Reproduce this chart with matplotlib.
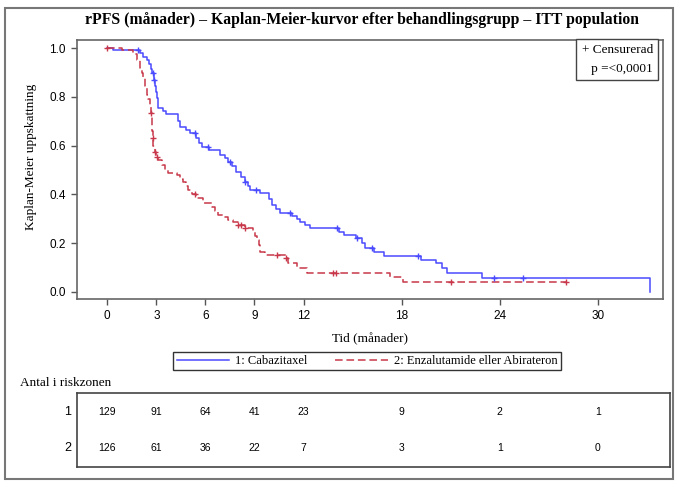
import matplotlib
matplotlib.use("Agg")
import matplotlib.pyplot as plt
from matplotlib.lines import Line2D
from matplotlib.patches import Rectangle
import numpy as np

# ============= data
# group 1: Cabazitaxel  (time in months, survival after the drop)
cab_t = [0, 0.35, 2.0, 2.2, 2.4, 2.55, 2.65, 2.72, 2.85, 2.92, 2.97, 3.02, 3.08, 3.12,
         3.4, 3.6, 4.3, 4.45, 4.8, 5.05, 5.4, 5.6, 5.8, 6.2, 6.9, 7.2, 7.4, 7.65, 7.9,
         8.15, 8.42, 8.6, 8.73, 9.34, 9.9, 10.05, 10.3, 10.56, 11.3, 11.6, 11.8, 12.1,
         12.4, 14.2, 14.5, 15.2, 15.6, 15.75, 16.3, 16.9, 19.2, 20.1, 20.45, 20.8, 22.9, 33.2]
cab_s = [1.0, 0.992, 0.98, 0.965, 0.95, 0.935, 0.915, 0.90, 0.87, 0.845, 0.82, 0.795, 0.77, 0.754,
         0.742, 0.73, 0.70, 0.678, 0.665, 0.65, 0.63, 0.612, 0.595, 0.582, 0.562, 0.548, 0.534, 0.515, 0.493,
         0.472, 0.452, 0.435, 0.418, 0.404, 0.38, 0.356, 0.34, 0.322, 0.31, 0.30, 0.288, 0.275,
         0.261, 0.247, 0.233, 0.22, 0.20, 0.179, 0.165, 0.147, 0.13, 0.117, 0.096, 0.076, 0.055, 0.0]
cab_cens = [1.9, 2.8, 2.87, 5.35, 6.16, 7.5, 8.42, 9.1, 11.17, 14.05, 15.25, 16.2, 19.0, 23.65, 25.4]

# group 2: Enzalutamide eller Abirateron
enz_t = [0, 0.9, 1.6, 1.8, 2.0, 2.1, 2.2, 2.3, 2.4, 2.5, 2.6, 2.68, 2.72, 2.75, 2.78, 2.82,
         2.9, 3.0, 3.1, 3.33, 3.5, 3.73, 4.24, 4.45, 4.65, 4.8, 4.95, 5.2, 5.45, 5.87, 6.38,
         6.6, 6.79, 7.1, 7.4, 7.7, 8.0, 8.42, 8.93, 9.05, 9.14, 9.25, 9.34, 9.65, 10.9, 11.07,
         11.58, 12.2, 17.3, 18.1, 28.05]
enz_s = [1.0, 0.992, 0.975, 0.95, 0.92, 0.90, 0.877, 0.845, 0.81, 0.79, 0.767, 0.735, 0.70, 0.66, 0.63, 0.60,
         0.575, 0.555, 0.54, 0.52, 0.50, 0.487, 0.48, 0.465, 0.452, 0.435, 0.418, 0.40, 0.385, 0.363, 0.35,
         0.33, 0.315, 0.305, 0.295, 0.285, 0.274, 0.261, 0.247, 0.23, 0.213, 0.19, 0.165, 0.151, 0.14, 0.117,
         0.096, 0.076, 0.062, 0.041, 0.041]
enz_cens = [0.0, 2.7, 2.8, 2.9, 3.02, 5.36, 8.0, 8.2, 8.42, 10.4, 10.9, 13.8, 14.0, 21.0, 28.05]

xticks = [0, 3, 6, 9, 12, 18, 24, 30]
risk_1 = [129, 91, 64, 41, 23, 9, 2, 1]
risk_2 = [126, 61, 36, 22, 7, 3, 1, 0]

title = "rPFS (månader) – Kaplan-Meier-kurvor efter behandlingsgrupp – ITT population"
lab_1 = "1: Cabazitaxel"
lab_2 = "2: Enzalutamide eller Abirateron"

# ============= size / colours
my_dpi = 100
W, H = 686, 487
blue = "#4a4aff"
red = "#c8384a"
serif = "Liberation Serif"
sans = "Liberation Sans"
lw = 1.1

fig = plt.figure(figsize=(W / my_dpi, H / my_dpi), dpi=my_dpi)

def px_box(x0, y0, x1, y1):
  return [x0 / W, 1 - y1 / H, (x1 - x0) / W, (y1 - y0) / H]

# pixel mapping of the time axis: x_px = 107.3 + 16.35 * t
def t_of(px):
  return (px - 107.3) / 16.35

ax = fig.add_axes(px_box(77, 40, 663, 299))

def surv_at(times, surv, tc):
  i = np.searchsorted(times, tc, side="right") - 1
  return np.asarray(surv)[i]

ax.step(cab_t, cab_s, where="post", color=blue, lw=lw)
ax.step(enz_t, enz_s, where="post", color=red, lw=lw, dashes=(5, 2.5))
ax.plot(cab_cens, surv_at(cab_t, cab_s, cab_cens), "+", color=blue, ms=5, mew=1)
ax.plot(enz_cens, surv_at(enz_t, enz_s, enz_cens), "+", color=red, ms=5, mew=1)

ax.set_xlim(t_of(77), t_of(663))
ax.set_ylim(-0.03, 1.034)
ax.set_xticks(xticks)
ax.set_yticks([0.0, 0.2, 0.4, 0.6, 0.8, 1.0])
ax.set_yticklabels(["0.0", "0.2", "0.4", "0.6", "0.8", "1.0"])
for lbl in ax.get_xticklabels() + ax.get_yticklabels():
  lbl.set_fontfamily(sans)
  lbl.set_fontsize(8.5)
ax.tick_params(direction="out", length=4, width=1, color="#555555", pad=4)
for sp in ax.spines.values():
  sp.set_color("#666666")
  sp.set_linewidth(1.2)

ax.set_xlabel("Tid (månader)", family=serif, fontsize=9.5, labelpad=8)
ax.set_ylabel("Kaplan-Meier uppskattning", family=serif, fontsize=9.5)
ax.yaxis.set_label_coords(-0.068, 0.55)

fig.text(362 / W, 1 - 20 / H, title, family=serif, weight="bold", fontsize=11.3,
         ha="center", va="center")

# censor / p-value box inside the plot
ax.text(0.983, 0.983, "+ Censurerad\n   p =<0,0001", transform=ax.transAxes, family=serif,
        fontsize=9.5, ha="right", va="top", linespacing=1.75,
        bbox=dict(boxstyle="square,pad=0.4", fc="white", ec="#444444", lw=1))

# group legend under the x axis
handles = [Line2D([], [], color=blue, lw=lw), Line2D([], [], color=red, lw=lw, dashes=(5, 2.5))]
leg = fig.legend(handles, [lab_1, lab_2], loc="center", bbox_to_anchor=(367 / W, 1 - 361 / H),
                 ncol=2, frameon=True, fancybox=False, edgecolor="black",
                 prop={"family": serif, "size": 9}, handlelength=4.2, columnspacing=2.2,
                 borderpad=0.25, handletextpad=0.5)
leg.get_frame().set_linewidth(1)

# number at risk
fig.text(20 / W, 1 - 383 / H, "Antal i riskzonen", family=serif, fontsize=9.5, va="center")
tab = fig.add_axes(px_box(77, 393, 670, 467))
tab.set_xlim(t_of(77), t_of(670))
tab.set_ylim(0, 1)
tab.set_xticks([])
tab.set_yticks([])
for sp in tab.spines.values():
  sp.set_color("#444444")
  sp.set_linewidth(1.2)
for t, a, b in zip(xticks, risk_1, risk_2):
  tab.text(t, 0.745, str(a), ha="center", va="center", family=sans, fontsize=7.5)
  tab.text(t, 0.26, str(b), ha="center", va="center", family=sans, fontsize=7.5)
tab.text(-0.01, 0.745, "1", transform=tab.transAxes, ha="right", va="center", family=sans, fontsize=9)
tab.text(-0.01, 0.26, "2", transform=tab.transAxes, ha="right", va="center", family=sans, fontsize=9)

# outer frame of the figure
fig.patches.append(Rectangle((5 / W, 1 - 479 / H), 668 / W, 471 / H, transform=fig.transFigure,
                             fill=False, ec="#777777", lw=1.5))

plt.savefig("out.png", dpi=my_dpi)
